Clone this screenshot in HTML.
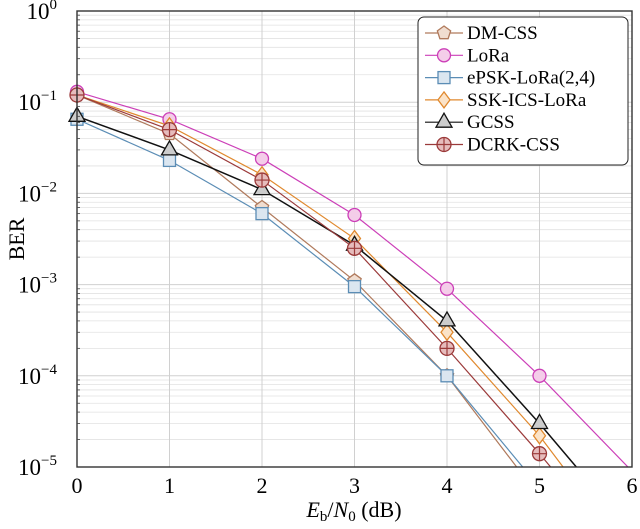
<!DOCTYPE html>
<html><head><meta charset="utf-8">
<style>
html,body{margin:0;padding:0;background:#fff;overflow:hidden;width:640px;height:529px}
svg{display:block;font-family:"Liberation Serif",serif}
</style></head><body>
<svg id="chart" width="640" height="529">
<defs><clipPath id="pc"><rect x="77" y="11" width="555" height="456"/></clipPath></defs>
<g id="grid"></g>
<g id="series" clip-path="url(#pc)"></g>
<g id="marks"></g>
<rect x="77" y="11" width="555" height="456" fill="none" stroke="#333" stroke-width="1.4"/>
<g id="ticks"></g>
<text x="354" y="517" font-size="22" text-anchor="middle"><tspan font-style="italic">E</tspan><tspan font-size="15" dy="4">b</tspan><tspan dy="-4">/</tspan><tspan font-style="italic">N</tspan><tspan font-size="15" dy="4">0</tspan><tspan dy="-4"> (dB)</tspan></text>
<text x="0" y="0" font-size="22" text-anchor="middle" transform="translate(24,239) rotate(-90)">BER</text>
<g id="legend"></g>
</svg>
<script>
const xTicks=[0,1,2,3,4,5,6];
const yExps=[0,-1,-2,-3,-4,-5];
const names=["DM-CSS","LoRa","ePSK-LoRa(2,4)","SSK-ICS-LoRa","GCSS","DCRK-CSS"];
const xs=[0,1,2,3,4,5,6];
const dmCss=[0.12,0.045,0.007,0.0011,1e-4,4.7e-6,2e-7];
const lora=[0.13,0.065,0.024,0.0058,9e-4,1e-4,9e-6];
const epsk=[0.065,0.023,0.006,0.00095,1e-4,6e-6,3e-7];
const ssk=[0.12,0.055,0.016,0.0032,3e-4,2.2e-5,1e-6];
const gcss=[0.07,0.03,0.011,0.0027,4e-4,3e-5,1.9e-6];
const dcrk=[0.12,0.05,0.014,0.0025,2e-4,1.4e-5,8.5e-7];
const markedCount=[5,6,5,6,6,6];
const NS="http://www.w3.org/2000/svg";
const X=v=>77+v*92.5, Y=v=>11-Math.log10(v)*91.2;
const YB=Y(1e-5);
function mk(p,t,a){const e=document.createElementNS(NS,t);for(const k in a)e.setAttribute(k,a[k]);p.appendChild(e);return e;}
const grid=document.getElementById('grid'),ticks=document.getElementById('ticks');
for(let d=0;d>-5;d--)for(let m=2;m<10;m++){const y=Y(m*Math.pow(10,d-1));
 const l=mk(grid,'line',{x1:77,x2:632,y1:y,y2:y,stroke:'#e2e2e2','stroke-width':0.8});
 
 const t=mk(ticks,'line',{x1:77,x2:80,y1:y,y2:y,stroke:'#444','stroke-width':0.8});
 }
yExps.forEach(e=>{const y=Y(Math.pow(10,e));
 const l=mk(grid,'line',{x1:77,x2:632,y1:y,y2:y,stroke:'#d0d0d0','stroke-width':1});
 
 const t=mk(ticks,'text',{x:57,y:y+8,'font-size':23,'text-anchor':'end'});
 
 t.innerHTML='10<tspan font-size="15" dy="-10">'+(e<0?'\u2212'+(-e):e)+'</tspan>';});
xTicks.forEach(v=>{const x=X(v);
 const l=mk(grid,'line',{x1:x,x2:x,y1:11,y2:467,stroke:'#d0d0d0','stroke-width':1});
 
 const t=mk(ticks,'text',{x:x,y:493,'font-size':22,'text-anchor':'middle'});
 
 t.textContent=v;});
const data=[dmCss,lora,epsk,ssk,gcss,dcrk];
const col=['#b07a5c','#cc3fb8','#5b8db5','#e0892e','#111','#9b3a3a'];
const fill=['#f0ddd0','#f4cde9','#dbe6f0','#fbe3c8','#ccc','#e6bcbc'];
const shapes=['pent','circle','square','diamond','tri','cplus'];
function marker(g,s,x,y,c,f){let e;
 if(s==='circle')e=mk(g,'circle',{cx:x,cy:y,r:6.5});
 else if(s==='cplus'){e=mk(g,'circle',{cx:x,cy:y,r:7});mk(g,'path',{d:`M${x-7} ${y}H${x+7}M${x} ${y-7}V${y+7}`,stroke:c,'stroke-width':1.2});}
 else if(s==='square')e=mk(g,'rect',{x:x-6,y:y-6,width:12,height:12});
 else if(s==='diamond')e=mk(g,'path',{d:`M${x} ${y-8}L${x+6} ${y}L${x} ${y+8}L${x-6} ${y}Z`});
 else if(s==='tri')e=mk(g,'path',{d:`M${x} ${y-9}L${x+8} ${y+5}L${x-8} ${y+5}Z`});
 else {let p='';for(let i=0;i<5;i++){const a=-Math.PI/2+i*2*Math.PI/5;p+=(i?'L':'M')+(x+7*Math.cos(a))+' '+(y+7*Math.sin(a));}e=mk(g,'path',{d:p+'Z'});}
 e.setAttribute('fill',f);e.setAttribute('stroke',c);e.setAttribute('stroke-width',1.3);
 if(s==='cplus'){g.insertBefore(e,g.lastChild);}
 return e;}
function clippedPoints(d){
 const pts=[];
 for(let j=0;j<d.length;j++){
  const x=X(xs[j]),y=Y(d[j]);
  if(y<=YB){pts.push([x,y]);continue;}
  if(j>0){const px=X(xs[j-1]),py=Y(d[j-1]);
   if(py<=YB){const t=(YB-py)/(y-py);pts.push([px+t*(x-px),YB]);}}
  break;}
 return pts.map(p=>p[0].toFixed(2)+','+p[1].toFixed(2)).join(' ');}
const sg=document.getElementById('series'),mg=document.getElementById('marks');
data.forEach((d,i)=>{
 const p=mk(sg,'polyline',{points:clippedPoints(d),fill:'none',stroke:col[i],'stroke-width':i===4?1.5:1.2});
 
 
 for(let j=0;j<markedCount[i];j++){if(Y(d[j])>468)continue;
  const g=mk(mg,'g',{});
  
  
  marker(g,shapes[i],X(xs[j]),Y(d[j]),col[i],fill[i]);}
});
const lg=document.getElementById('legend');
mk(lg,'rect',{x:418,y:17,width:210,height:148,rx:6,fill:'#fff',stroke:'#222','stroke-width':1});
names.forEach((n,i)=>{const y=33+i*22.3;
 const g=mk(lg,'g',{});
 
 
 mk(g,'line',{x1:425,x2:463,y1:y,y2:y,stroke:col[i],'stroke-width':1.2});
 marker(g,shapes[i],444,y,col[i],fill[i]);
 const t=mk(g,'text',{x:467,y:y+6,'font-size':19});t.textContent=n;});
</script>
</body></html>
